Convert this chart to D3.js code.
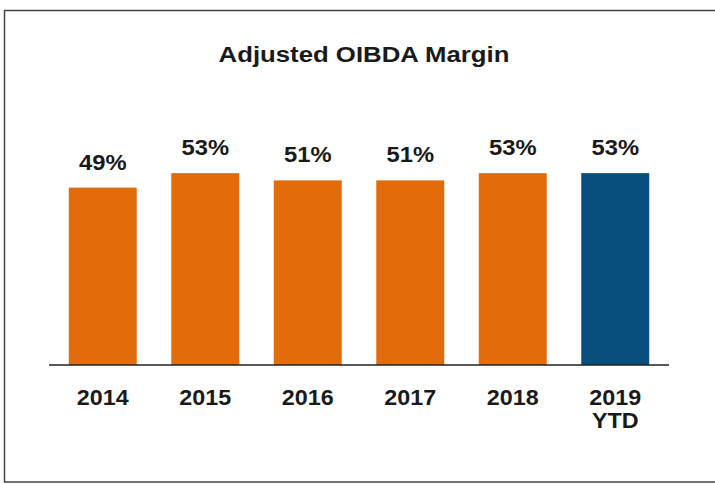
<!DOCTYPE html>
<html>
<head>
<meta charset="utf-8">
<script src="https://cdn.jsdelivr.net/npm/d3@7"></script>
<style>
html,body{margin:0;padding:0;background:#fff;}
svg{display:block;}
text{font-family:"Liberation Sans",Arial,sans-serif;font-weight:bold;fill:#1a1a1a;}
</style>
</head>
<body>
<svg id="chart" width="715" height="484"></svg>
<script>
const categories = ["2014", "2015", "2016", "2017", "2018", "2019\nYTD"];
const values = [49, 53, 51, 51, 53, 53];
const valueLabels = ["49%", "53%", "51%", "51%", "53%", "53%"];
const barColors = ["#E36C0A", "#E36C0A", "#E36C0A", "#E36C0A", "#E36C0A", "#084F7E"];
const title = "Adjusted OIBDA Margin";

const svg = d3.select("#chart");

// frame
svg.append("rect")
  .attr("x", 4.5).attr("y", 10.5)
  .attr("width", 730).attr("height", 471.5)
  .attr("fill", "none").attr("stroke", "#444").attr("stroke-width", 1.5);

svg.append("text")
  .attr("x", 364).attr("y", 62)
  .attr("text-anchor", "middle")
  .attr("font-size", 23)
  .attr("transform", "translate(364,0) scale(1.12,1) translate(-364,0)")
  .text(title);

const x = d3.scaleBand()
  .domain(categories)
  .range([49, 669])
  .paddingInner(0.337)
  .paddingOuter(0.193);

const y = d3.scaleLinear()
  .domain([0, 100])
  .range([365, 3]);

svg.selectAll("rect.bar")
  .data(values)
  .join("rect")
  .attr("class", "bar")
  .attr("x", (d, i) => x(categories[i]))
  .attr("y", d => y(d))
  .attr("width", x.bandwidth())
  .attr("height", d => y(0) - y(d))
  .attr("fill", (d, i) => barColors[i]);

svg.selectAll("text.val")
  .data(values)
  .join("text")
  .attr("class", "val")
  .attr("x", (d, i) => x(categories[i]) + x.bandwidth() / 2)
  .attr("y", d => y(d) - 18)
  .attr("text-anchor", "middle")
  .attr("font-size", 22)
  .attr("transform", (d, i) => {
    const cx = x(categories[i]) + x.bandwidth() / 2;
    return `translate(${cx},0) scale(1.08,1) translate(${-cx},0)`;
  })
  .text((d, i) => valueLabels[i]);

// baseline axis
const axis = d3.axisBottom(x).tickSize(0).tickFormat("");
const g = svg.append("g").attr("transform", "translate(0,365)").call(axis);
g.select(".domain").attr("stroke", "#222").attr("stroke-width", 1.5).attr("d", "M49,0H669");

categories.forEach(c => {
  const cx = x(c) + x.bandwidth() / 2;
  const t = svg.append("text")
    .attr("x", cx)
    .attr("y", 405)
    .attr("text-anchor", "middle")
    .attr("font-size", 22)
    .attr("transform", `translate(${cx},0) scale(1.06,1) translate(${-cx},0)`);
  c.split("\n").forEach((line, j) => {
    t.append("tspan").attr("x", cx).attr("dy", j === 0 ? 0 : 23).text(line);
  });
});
</script>
</body>
</html>
